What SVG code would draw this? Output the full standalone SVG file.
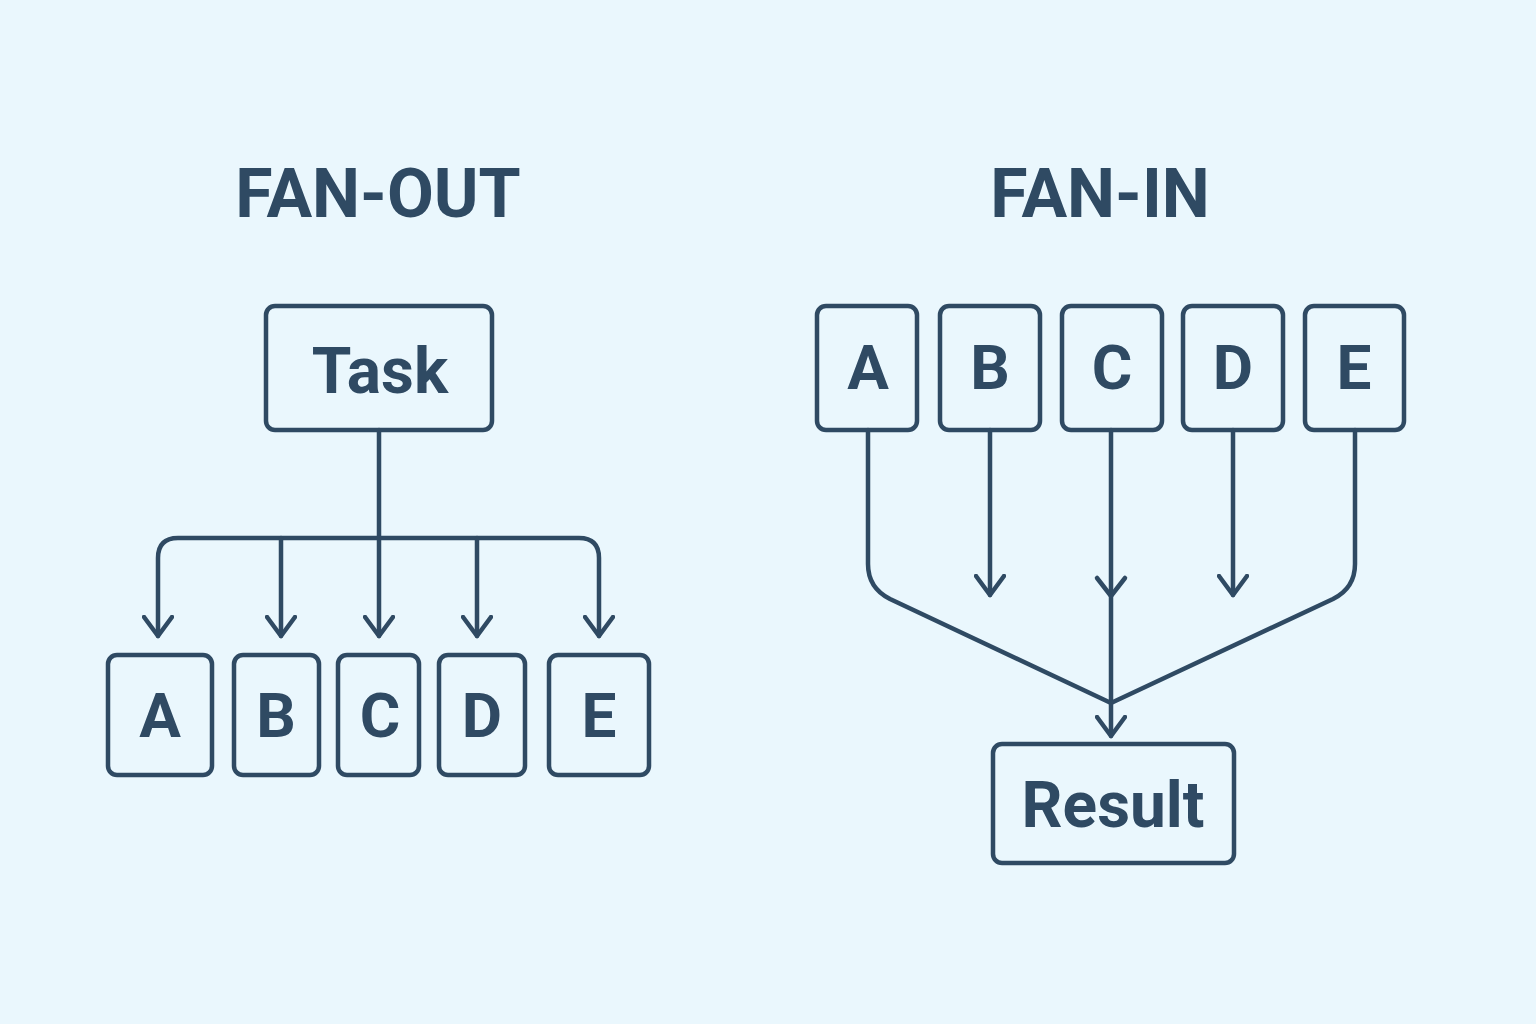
<svg xmlns="http://www.w3.org/2000/svg" width="1536" height="1024" viewBox="0 0 1536 1024">
<defs>
<style>
.box{fill:none;stroke:#2F4A63;stroke-width:4.5;}
.ln{fill:none;stroke:#2F4A63;stroke-width:4.5;stroke-linecap:round;stroke-linejoin:round;}
.t{font-family:Roboto,"Liberation Sans",sans-serif;font-weight:bold;fill:#2F4A63;text-anchor:middle;}
.title{font-size:68px;}
.lbl{font-size:62px;}
.big{font-size:64px;}
</style>
<marker id="ah" viewBox="0 0 24 32" refX="21" refY="16" markerWidth="24" markerHeight="32" markerUnits="userSpaceOnUse" orient="auto-start-reverse">
<path d="M2,2 L21,16 L2,30" fill="none" stroke="#2F4A63" stroke-width="4.5" stroke-linecap="round" stroke-linejoin="round"/>
</marker>
</defs>
<rect width="1536" height="1024" fill="#EAF7FD"/>

<text class="t title" x="378" y="217">FAN-OUT</text>
<text class="t title" x="1100" y="217">FAN-IN</text>

<g id="connectors">
  <!-- fan-out -->
  <path class="ln" d="M379,430 L379,636" marker-end="url(#ah)"/>
  <path class="ln" d="M158,636 L158,558 Q158,538 178,538 L579,538 Q599,538 599,558 L599,636" marker-start="url(#ah)" marker-end="url(#ah)"/>
  <path class="ln" d="M281,538 L281,636" marker-end="url(#ah)"/>
  <path class="ln" d="M477,538 L477,636" marker-end="url(#ah)"/>
  <!-- fan-in -->
  <path class="ln" d="M990,430 L990,595" marker-end="url(#ah)"/>
  <path class="ln" d="M1233,430 L1233,595" marker-end="url(#ah)"/>
  <path class="ln" d="M1111,430 L1111,736" marker-end="url(#ah)"/>
  <path class="ln" d="M1097,578 L1111,596 L1125,578"/>
  <path class="ln" d="M868,430 L868,564 Q868,588 890,599 L1111,703"/>
  <path class="ln" d="M1355,430 L1355,564 Q1355,588 1333,599 L1111,703"/>
</g>

<g id="task"><rect class="box" x="266" y="306" width="226" height="124" rx="9"/><text class="t big" x="380" y="393">Task</text></g>
<g id="out-a"><rect class="box" x="108" y="655" width="104" height="120" rx="9"/><text class="t lbl" x="160" y="737">A</text></g>
<g id="out-b"><rect class="box" x="234" y="655" width="85" height="120" rx="9"/><text class="t lbl" x="276" y="737">B</text></g>
<g id="out-c"><rect class="box" x="338" y="655" width="81" height="120" rx="9"/><text class="t lbl" x="380" y="737">C</text></g>
<g id="out-d"><rect class="box" x="439" y="655" width="86" height="120" rx="9"/><text class="t lbl" x="482" y="737">D</text></g>
<g id="out-e"><rect class="box" x="549" y="655" width="100" height="120" rx="9"/><text class="t lbl" x="599" y="737">E</text></g>

<g id="in-a"><rect class="box" x="817" y="306" width="100" height="124" rx="9"/><text class="t lbl" x="868" y="389">A</text></g>
<g id="in-b"><rect class="box" x="940" y="306" width="100" height="124" rx="9"/><text class="t lbl" x="990" y="389">B</text></g>
<g id="in-c"><rect class="box" x="1062" y="306" width="100" height="124" rx="9"/><text class="t lbl" x="1112" y="389">C</text></g>
<g id="in-d"><rect class="box" x="1183" y="306" width="100" height="124" rx="9"/><text class="t lbl" x="1233" y="389">D</text></g>
<g id="in-e"><rect class="box" x="1305" y="306" width="99" height="124" rx="9"/><text class="t lbl" x="1354" y="389">E</text></g>

<g id="result"><rect class="box" x="993" y="744" width="241" height="119" rx="9"/><text class="t big" x="1113" y="827">Result</text></g>
</svg>
